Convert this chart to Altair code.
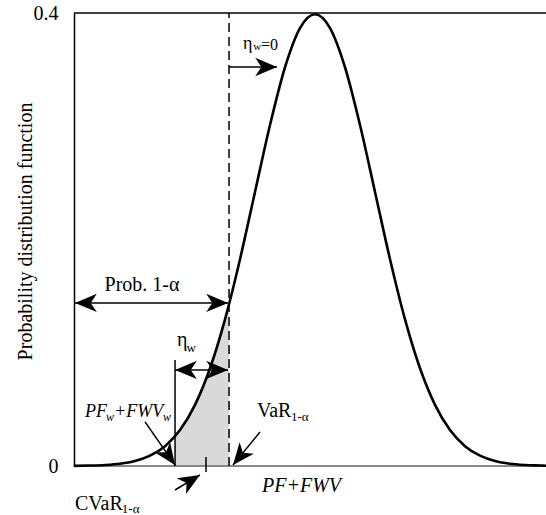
import altair as alt
import pandas as pd

# ---- data (x in standard-deviation units, y = density) ----
curve_x = [-4.02, -3.75, -3.5, -3.25, -3.0, -2.75, -2.5, -2.25, -2.0, -1.75, -1.5, -1.433,
           -1.25, -1.0, -0.75, -0.5, -0.25, 0.0, 0.25, 0.5, 0.75, 1.0, 1.25, 1.5, 1.75,
           2.0, 2.25, 2.5, 2.75, 3.0, 3.25, 3.5, 3.75, 3.85]
curve_y = [0.0001, 0.0004, 0.0009, 0.002, 0.0044, 0.0091, 0.0175, 0.0317, 0.054, 0.0863,
           0.1295, 0.1428, 0.1826, 0.242, 0.3011, 0.3521, 0.3867, 0.3989, 0.3867, 0.3521,
           0.3011, 0.242, 0.1826, 0.1295, 0.0863, 0.054, 0.0317, 0.0175, 0.0091, 0.0044,
           0.002, 0.0009, 0.0004, 0.0002]

shade_x = [-2.333, -2.25, -2.0, -1.75, -1.5, -1.433]
shade_y = [0.0262, 0.0317, 0.054, 0.0863, 0.1295, 0.1428]

X_MIN, X_MAX = -4.017, 3.85
VAR_X = -1.433
ETA_X = -2.333

# line segments: x, x2, y, y2, kind
seg_x = [X_MIN, X_MIN, VAR_X, ETA_X, -4.0, ETA_X, VAR_X, -2.833, -0.917, -2.333, -1.817]
seg_x2 = [X_MAX, X_MAX, VAR_X, ETA_X, -1.45, -1.45, -0.633, -2.333, -1.367, -1.917, -1.817]
seg_y = [0.0, 0.4, 0.0, 0.0, 0.144, 0.0848, 0.3523, 0.0389, 0.0300, -0.0212, -0.0053]
seg_y2 = [0.0, 0.4, 0.4, 0.0936, 0.144, 0.0848, 0.3523, 0.0009, 0.0009, -0.0079, 0.0079]
seg_kind = ["base", "top", "dash", "solid", "solid", "solid", "solid", "solid", "solid", "solid", "solid"]

# arrowheads: tip position and direction (degrees clockwise)
head_x = [-4.0, -1.45, ETA_X, -1.45, -0.633, -2.333, -1.367, -1.917]
head_y = [0.144, 0.144, 0.0848, 0.0848, 0.3523, 0.0009, 0.0009, -0.0079]
head_angle = [180, 0, 180, 0, 0, 55, 129, 329]

# text pieces: text, x (left), y (baseline), size, italic
txt = ["Prob. 1-\u03b1", "\u03b7", "w", "\u03b7", "w", "=0",
       "PF", "w", "+FWV", "w", "VaR", "1-\u03b1", "CVaR", "1-\u03b1", "PF+FWV"]
txt_x = [-2.883, -2.30, -2.14, -1.20, -1.03, -0.90,
         -3.833, -3.483, -3.35, -2.533, -0.967, -0.40, -4.0, -3.22, -0.883]
txt_y = [0.1545, 0.106, 0.1007, 0.3682, 0.3673, 0.3673,
         0.0433, 0.0397, 0.0433, 0.0397, 0.0433, 0.0397, -0.0389, -0.0415, -0.023]
txt_size = [20, 20, 13, 18, 11, 16, 18, 12, 18, 12, 20, 13, 20, 13, 20]
txt_style = ["normal", "normal", "normal", "normal", "normal", "normal",
             "italic", "italic", "italic", "italic", "normal", "normal", "normal", "normal", "italic"]
txt_align = ["center"] + ["left"] * 14

curve = pd.DataFrame({"x": curve_x, "y": curve_y})
shade = pd.DataFrame({"x": shade_x, "y": shade_y})
segs = pd.DataFrame({"x": seg_x, "x2": seg_x2, "y": seg_y, "y2": seg_y2, "kind": seg_kind})
heads = pd.DataFrame({"x": head_x, "y": head_y, "angle": head_angle})
texts = pd.DataFrame({"t": txt, "x": txt_x, "y": txt_y, "fs": txt_size,
                      "fstyle": txt_style, "falign": txt_align})

xs = alt.Scale(domain=[X_MIN, X_MAX], nice=False, zero=False)
ys = alt.Scale(domain=[0, 0.4], nice=False, zero=False)
FONT = "Liberation Serif"

yaxis = alt.Axis(values=[0, 0.4], format=".1~f", ticks=False, grid=False,
                 domainColor="black", domainWidth=1.5,
                 labelFont=FONT, labelFontSize=20, labelColor="black", labelPadding=16,
                 title="Probability distribution function",
                 titleFont=FONT, titleFontSize=20, titleFontWeight="normal", titleColor="black",
                 titleX=-49, titleY=218, titleAlign="center", titleBaseline="middle")

area = alt.Chart(shade).mark_area(color="#d9d9d9", interpolate="monotone").encode(
    x=alt.X("x:Q", scale=xs, axis=None),
    y=alt.Y("y:Q", scale=ys, axis=yaxis),
)

base_line = alt.Chart(segs[segs["kind"] == "base"]).mark_rule(color="#888888", strokeWidth=2).encode(
    x=alt.X("x:Q", scale=xs), x2="x2:Q", y=alt.Y("y:Q", scale=ys))

line = alt.Chart(curve).mark_line(color="black", strokeWidth=2.6, interpolate="monotone").encode(
    x=alt.X("x:Q", scale=xs), y=alt.Y("y:Q", scale=ys))

top_line = alt.Chart(segs[segs["kind"] == "top"]).mark_rule(color="black", strokeWidth=1.5).encode(
    x=alt.X("x:Q", scale=xs), x2="x2:Q", y=alt.Y("y:Q", scale=ys))

dash = alt.Chart(segs[segs["kind"] == "dash"]).mark_rule(color="black", strokeWidth=1.5,
                                                          strokeDash=[9, 5]).encode(
    x=alt.X("x:Q", scale=xs), y=alt.Y("y:Q", scale=ys), y2="y2:Q")

solid = alt.Chart(segs[segs["kind"] == "solid"]).mark_rule(color="black", strokeWidth=1.5).encode(
    x=alt.X("x:Q", scale=xs), x2="x2:Q", y=alt.Y("y:Q", scale=ys), y2="y2:Q")

arrow_path = "M0,0L-1,-0.42L-0.72,0L-1,0.42Z"
hd = alt.Chart(heads).mark_point(shape=arrow_path, filled=True, color="black",
                                 opacity=1, size=1900, strokeWidth=0).encode(
    x=alt.X("x:Q", scale=xs), y=alt.Y("y:Q", scale=ys),
    angle=alt.Angle("angle:Q", scale=None))

layers = [area, base_line, line, top_line, dash, solid, hd]
for al in ["center", "left"]:
    for st in ["normal", "italic"]:
        sub = texts[(texts["falign"] == al) & (texts["fstyle"] == st)]
        if len(sub) == 0:
            continue
        layers.append(alt.Chart(sub).mark_text(font=FONT, color="black", align=al,
                                               baseline="alphabetic", fontStyle=st).encode(
            x=alt.X("x:Q", scale=xs), y=alt.Y("y:Q", scale=ys), text="t:N",
            size=alt.Size("fs:Q", scale=None)))

chart = alt.layer(*layers).properties(
    width=472, height=453,
    padding={"left": 74, "top": 13, "right": 0, "bottom": 49},
    autosize=alt.AutoSizeParams(type="none"),
    background="white",
).configure_view(stroke=None)

chart.save("out.html", embed_options={"renderer": "svg", "actions": False})
